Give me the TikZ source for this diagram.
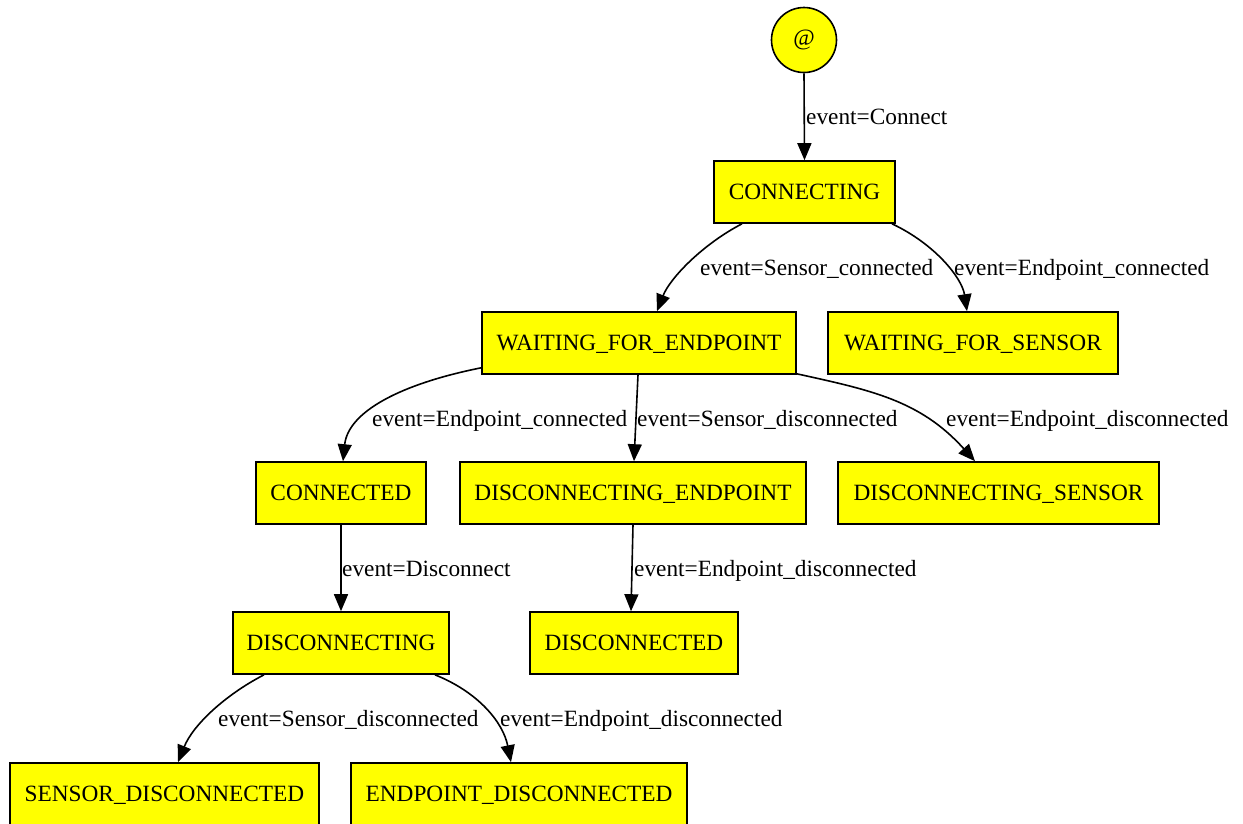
\documentclass[tikz,border=0pt]{standalone}
\usepackage{fontspec}
\setmainfont{Liberation Serif}
\usetikzlibrary{arrows.meta}
\definecolor{gvyellow}{RGB}{255,255,0}
\tikzset{
  gvfont/.style={font=\fontsize{23.3}{28}\selectfont},
  state/.style={gvfont, draw=black, fill=gvyellow, line width=1.6pt, rectangle, inner sep=0pt,
    minimum height=62pt, text height=15.4pt, text depth=0pt},
  startstate/.style={gvfont, draw=black, fill=gvyellow, line width=1.6pt, circle, inner sep=0pt,
    minimum size=65pt},
  edgelabel/.style={gvfont, anchor=base west, inner sep=0pt},
  conn/.style={draw=black, line width=1.6pt, -{Triangle[length=17pt,width=14pt]}}
}
\begin{document}
\begin{tikzpicture}[x=1pt,y=-1pt]
\useasboundingbox (0,0) rectangle (1243,823);

\node[startstate] (start) at (804,40) {@};
\node[state, minimum width=181pt] (connecting) at (804.5,192) {CONNECTING};
\node[state, minimum width=314pt] (wfe) at (639,343) {WAITING\_FOR\_ENDPOINT};
\node[state, minimum width=290pt] (wfs) at (973,343) {WAITING\_FOR\_SENSOR};
\node[state, minimum width=170pt] (connected) at (341,493) {CONNECTED};
\node[state, minimum width=346pt] (de) at (633,493) {DISCONNECTING\_ENDPOINT};
\node[state, minimum width=321pt] (ds) at (998.5,493) {DISCONNECTING\_SENSOR};
\node[state, minimum width=216pt] (disc) at (341,643) {DISCONNECTING};
\node[state, minimum width=208pt] (dised) at (634,643) {DISCONNECTED};
\node[state, minimum width=309pt] (sd) at (164.5,794) {SENSOR\_DISCONNECTED};
\node[state, minimum width=336pt] (ed) at (519,794) {ENDPOINT\_DISCONNECTED};

% edges
\draw[conn] (start.south) -- (connecting.north);
\draw[conn] ([xshift=-62.5pt]connecting.south) .. controls (703,244) and (670,278) .. ([xshift=18pt]wfe.north);
\draw[conn] ([xshift=87.5pt]connecting.south) .. controls (935,244) and (962,278) .. ([xshift=-6pt]wfs.north);
\draw[conn] ([yshift=7pt]wfe.south west) .. controls (400,384) and (348,412) .. ([xshift=2pt]connected.north);
\draw[conn] ([xshift=-1pt]wfe.south) -- ([xshift=1pt]de.north);
\draw[conn] ([yshift=1pt]wfe.south east) .. controls (870,390) and (920,400) .. ([xshift=-23.5pt]ds.north);
\draw[conn] (connected.south) -- (disc.north);
\draw[conn] (de.south) -- ([xshift=-3pt]dised.north);
\draw[conn] ([xshift=-77pt]disc.south) .. controls (225,695) and (193,725) .. ([xshift=13.5pt]sd.north);
\draw[conn] ([xshift=94pt]disc.south) .. controls (478,692) and (503,722) .. ([xshift=-8pt]ed.north);

% labels
\node[edgelabel] (l1) at (806,124) {event=Connect};
\node[edgelabel] (l2) at (700,275) {event=Sensor\_connected};
\node[edgelabel] (l3) at (954,275) {event=Endpoint\_connected};
\node[edgelabel] (l4) at (372,426) {event=Endpoint\_connected};
\node[edgelabel] (l5) at (637,426) {event=Sensor\_disconnected};
\node[edgelabel] (l6) at (946,426) {event=Endpoint\_disconnected};
\node[edgelabel] (l7) at (342,576) {event=Disconnect};
\node[edgelabel] (l8) at (634,576) {event=Endpoint\_disconnected};
\node[edgelabel] (l9) at (218,726) {event=Sensor\_disconnected};
\node[edgelabel] (l10) at (500,726) {event=Endpoint\_disconnected};
\end{tikzpicture}
\end{document}
